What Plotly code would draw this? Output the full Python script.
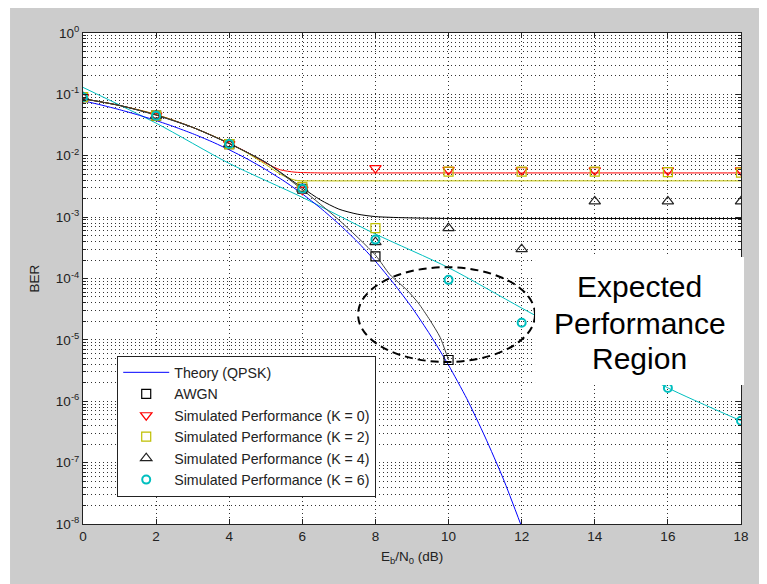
import plotly.graph_objects as go

# ---------------- data ----------------
theory_x = [0, 0.5, 1, 1.5, 2, 2.5, 3, 3.5, 4, 4.5, 5, 5.5, 6, 6.5, 7, 7.5, 8,
            8.5, 9, 9.5, 10, 10.5, 11, 11.5, 12]
theory_ber = [0.0786, 0.0671, 0.0563, 0.0464, 0.0375, 0.0296, 0.0229, 0.0172,
              0.0125, 0.00882, 0.00595, 0.00387, 0.00239, 0.00140, 7.73e-4,
              4.01e-4, 1.91e-4, 8.3e-5, 3.36e-5, 1.2e-5, 3.87e-6, 1.1e-6,
              2.61e-7, 5.4e-8, 9.0e-9]

# fitted curves
awgn_fit_x = [0, 1, 2, 3, 4, 5, 6, 7, 8, 8.4, 8.86, 9.17, 9.49, 9.77, 9.9, 10]
awgn_fit_ber = [0.085, 0.066, 0.046, 0.029, 0.0158, 0.0078, 0.0028, 9.0e-4,
                2.4e-4, 1.15e-4, 6.5e-5, 4.0e-5, 2.1e-5, 1.1e-5, 6.9e-6, 4.7e-6]

k0_fit_x = [0, 1, 2, 3, 4, 4.5, 5, 5.4, 5.8, 6.5, 8, 10, 12, 14, 16, 18]
k0_fit_ber = [0.085, 0.066, 0.047, 0.029, 0.016, 0.0113, 0.0076, 0.0059,
              0.0054, 0.00525, 0.00525, 0.00525, 0.00525, 0.00525, 0.00525, 0.00525]

k2_fit_x = [0, 1, 2, 3, 4, 4.5, 5, 5.4, 5.8, 6.5, 8, 10, 12, 14, 16, 18]
k2_fit_ber = [0.085, 0.066, 0.047, 0.029, 0.016, 0.011, 0.0072, 0.0050,
              0.0040, 0.0039, 0.0039, 0.0039, 0.0039, 0.0039, 0.0039, 0.0039]

k4_fit_x = [0, 1, 2, 3, 4, 5, 6, 6.5, 7, 7.5, 8, 9, 10, 12, 14, 16, 18]
k4_fit_ber = [0.085, 0.066, 0.046, 0.029, 0.0158, 0.0078, 0.0030, 0.0019,
              0.00135, 0.00112, 0.00102, 0.00097, 0.00095, 0.00095, 0.00095,
              0.00095, 0.00095]

k6_fit_x = [0, 2, 4, 6, 8, 10, 12, 14, 16, 18]
k6_fit_ber = [0.13, 0.034, 0.0075, 0.0021, 5.3e-4, 1.5e-4, 3.3e-5, 7.5e-6,
              1.65e-6, 4.8e-7]

# simulated points
awgn_x = [0, 2, 4, 6, 8, 10]
awgn_ber = [0.09, 0.045, 0.0155, 0.0029, 2.3e-4, 4.7e-6]

sim_x = [0, 2, 4, 6, 8, 10, 12, 14, 16, 18]
k0_ber = [0.09, 0.045, 0.0155, 0.0028, 6.3e-3, 5.9e-3, 5.8e-3, 5.8e-3, 5.8e-3, 5.8e-3]
k2_ber = [0.09, 0.045, 0.0155, 0.0031, 6.6e-4, 5.5e-3, 5.5e-3, 5.5e-3, 5.4e-3, 5.3e-3]
k4_ber = [0.09, 0.045, 0.0155, 0.0029, 3.9e-4, 6.6e-4, 3.0e-4, 1.8e-3, 1.8e-3, 1.8e-3]
k6_ber = [0.09, 0.045, 0.0155, 0.0029, 4.3e-4, 9.5e-5, 1.9e-5, 5.0e-6, 1.65e-6, 4.8e-7]

x_ticks = [0, 2, 4, 6, 8, 10, 12, 14, 16, 18]
y_ticks = [1e-8, 1e-7, 1e-6, 1e-5, 1e-4, 1e-3, 1e-2, 1e-1, 1]
y_tick_labels = ["10<sup>-8</sup>", "10<sup>-7</sup>", "10<sup>-6</sup>",
                 "10<sup>-5</sup>", "10<sup>-4</sup>", "10<sup>-3</sup>",
                 "10<sup>-2</sup>", "10<sup>-1</sup>", "10<sup>0</sup>"]
y_minor = [m * 10.0 ** e for e in range(-8, 0) for m in range(2, 10)]

region_lines = ["Expected", "Performance", "Region"]

RED = "#FF0000"
YEL = "rgb(191,191,0)"
CYA = "rgb(0,191,191)"
BLU = "#0000FF"
FONT = "Liberation Sans, Arial, sans-serif"

fig = go.Figure()

# fitted lines (no legend)
def fit_line(x, y, color):
    fig.add_trace(go.Scatter(x=x, y=y, mode="lines",
                             line=dict(color=color, width=1, shape="spline", smoothing=0.7),
                             showlegend=False, hoverinfo="skip"))

fit_line(k0_fit_x, k0_fit_ber, RED)
fit_line(k2_fit_x, k2_fit_ber, YEL)
fit_line(k6_fit_x, k6_fit_ber, CYA)
fit_line(k4_fit_x, k4_fit_ber, "black")
fit_line(awgn_fit_x, awgn_fit_ber, "#404040")

# theory
fig.add_trace(go.Scatter(x=theory_x, y=theory_ber, mode="lines", name="Theory (QPSK)",
                         line=dict(color=BLU, width=1, shape="spline", smoothing=0.6)))

# simulated markers
fig.add_trace(go.Scatter(x=awgn_x, y=awgn_ber, mode="markers", name="AWGN",
                         marker=dict(symbol="square-open", size=9, color="black",
                                     line=dict(width=1.2))))
fig.add_trace(go.Scatter(x=sim_x, y=k0_ber, mode="markers",
                         name="Simulated Performance (K = 0)",
                         marker=dict(symbol="triangle-down-open", size=10, color=RED,
                                     line=dict(width=1.2))))
fig.add_trace(go.Scatter(x=sim_x, y=k2_ber, mode="markers",
                         name="Simulated Performance (K = 2)",
                         marker=dict(symbol="square-open", size=9, color=YEL,
                                     line=dict(width=1.2))))
fig.add_trace(go.Scatter(x=sim_x, y=k4_ber, mode="markers",
                         name="Simulated Performance (K = 4)",
                         marker=dict(symbol="triangle-up-open", size=10, color="#222",
                                     line=dict(width=1.2))))
fig.add_trace(go.Scatter(x=sim_x, y=k6_ber, mode="markers",
                         name="Simulated Performance (K = 6)",
                         marker=dict(symbol="circle-open", size=8, color=CYA,
                                     line=dict(width=2))))

grid_col = "rgba(0,0,0,0.8)"
fig.update_xaxes(range=[0, 18], tickvals=x_ticks, ticks="inside", ticklen=5,
                 tickcolor="#222", showline=True, linecolor="#222", linewidth=1,
                 mirror="allticks", showgrid=True, gridcolor=grid_col,
                 griddash="1px,3px", gridwidth=1, zeroline=False,
                 tickfont=dict(family=FONT, size=13.5, color="#222"))
fig.update_yaxes(type="log", range=[-8, 0], tickvals=y_ticks, ticktext=y_tick_labels,
                 ticks="inside", ticklen=5, tickcolor="#222", showline=True,
                 linecolor="#222", linewidth=1, mirror="allticks", showgrid=True,
                 gridcolor=grid_col, griddash="1px,3px", gridwidth=1, zeroline=False,
                 tickfont=dict(family=FONT, size=13.5, color="#222"),
                 minor=dict(tickvals=y_minor, ticks="inside", ticklen=3,
                            tickcolor="#222", showgrid=True, gridcolor=grid_col,
                            griddash="1px,3px", gridwidth=1))

shapes = [
    # extra white strip at the left edge of the window
    dict(type="rect", xref="paper", yref="paper", x0=-0.1145, x1=-0.1109,
         y0=-0.125, y1=1.052, fillcolor="white", line=dict(width=0), layer="below"),
    # dashed ellipse
    dict(type="circle", xref="x domain", yref="y domain", x0=0.418, x1=0.687,
         y0=0.330, y1=0.523, line=dict(color="black", width=2, dash="8px,5px"),
         layer="above"),
    # white box for the text
    dict(type="rect", xref="paper", yref="paper", x0=0.687, x1=1.0046,
         y0=0.283, y1=0.544, fillcolor="white", line=dict(width=0), layer="above"),
]

# text line centres (paper y)
region_y = [0.483, 0.409, 0.338]
annotations = [
    dict(text=t, xref="paper", yref="paper", x=0.8465, y=yy, xanchor="center",
         yanchor="middle", showarrow=False,
         font=dict(family=FONT, size=30, color="black"))
    for t, yy in zip(region_lines, region_y)
]
annotations += [
    dict(text="E<sub>b</sub>/N<sub>0</sub> (dB)", xref="paper", yref="paper",
         x=0.5, y=-0.068, xanchor="center", yanchor="middle", showarrow=False,
         font=dict(family=FONT, size=13.5, color="#222")),
    dict(text="BER", xref="paper", yref="paper", x=-0.073, y=0.5,
         xanchor="center", yanchor="middle", textangle=-90, showarrow=False,
         font=dict(family=FONT, size=13.5, color="#222")),
]

fig.update_layout(
    width=759, height=576,
    margin=dict(l=75, r=26, t=25, b=60),
    paper_bgcolor="#CCCCCC", plot_bgcolor="white",
    font=dict(family=FONT, size=13.5, color="#222"),
    shapes=shapes, annotations=annotations,
    legend=dict(x=0.052, y=0.343, xanchor="left", yanchor="top",
                bgcolor="white", bordercolor="#222", borderwidth=1,
                font=dict(family=FONT, size=14.2, color="#222"),
                itemwidth=46, tracegroupgap=0),
)

fig.write_html("out.html")
